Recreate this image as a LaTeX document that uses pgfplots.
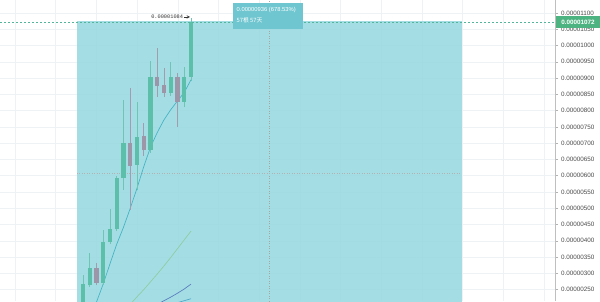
\documentclass[border=0pt]{standalone}
\usepackage{pgfplots}
\usepackage{pgfplotstable}
\pgfplotsset{compat=1.18}
\usepackage{fontspec}
\setmainfont{Liberation Sans}
\newfontfamily\cjk{Noto Sans CJK SC}
\newfontfamily\monof{Liberation Mono}
\definecolor{up}{HTML}{5BBFA9}
\definecolor{upw}{HTML}{6FC5B3}
\definecolor{dn}{HTML}{9D95A8}
\definecolor{dnw}{HTML}{A39CAE}
\definecolor{rectc}{RGB}{152,216,225}
\definecolor{gridc}{HTML}{EEF2F5}
\definecolor{labc}{HTML}{4A4A4A}
\definecolor{pricec}{HTML}{4DB380}
\definecolor{pline}{HTML}{52B69A}
\definecolor{boxc}{HTML}{6FC6D0}
\definecolor{maone}{HTML}{45B5C2}
\definecolor{matwo}{HTML}{8ECDA2}
\definecolor{mathree}{HTML}{5A7FBF}
\definecolor{mafour}{HTML}{4FA8C8}

\pgfplotstableread{
i O H L C
1 190 295 180 267
2 264 363 258 317
4 270 433 265 396
5 396 498 390 436
6 436 600 430 593
7 593 833 556 701
9 633 827 556 719
11 679 953 670 903
14 854 949 845 903
16 827 934 811 903
17 903 1084 890 1072
}\greentab

\pgfplotstableread{
i O H L C
3 317 332 265 270
8 701 870 495 630
10 722 762 660 679
12 903 992 842 876
13 879 931 842 854
15 903 916 750 827
}\graytab

\pgfplotstableread{
i v
3 212
4 268
5 330
6 390
7 442
8 500
9 562
10 628
11 688
12 733
13 772
14 803
15 830
16 856
17 895
}\maA

\pgfplotstableread{
i v
8 205
9 228
10 250
11 274
12 298
13 323
14 349
15 376
16 403
17 430
}\maB

\pgfplotstableread{
i v
12 205
13 216
14 227
15 239
16 252
17 267
}\maC

\pgfplotstableread{
i v
15 210
16 216
17 222
}\maD

\begin{document}
\begin{tikzpicture}
\begin{axis}[
  at={(0pt,0pt)}, anchor=south west,
  scale only axis, width=555pt, height=301pt,
  xmin=-11.3, xmax=70.92, ymin=215, ymax=1140,
  clip mode=individual,
  axis line style={draw=none},
  xtick={-9.08,-3.05,...,70}, xticklabels={},
  major x tick style={draw=none},
  ytick={250,300,...,1100},
  yticklabels={0.00000250,0.00000300,0.00000350,0.00000400,0.00000450,0.00000500,0.00000550,0.00000600,0.00000650,0.00000700,0.00000750,0.00000800,0.00000850,0.00000900,0.00000950,0.00001000,0.00001050,0.00001100},
  ytick pos=right, yticklabel pos=right,
  tick align=outside, major tick length=3pt,
  major y tick style={draw=black!30, line width=0.5pt},
  yticklabel style={font=\fontsize{6.3}{7}\selectfont, text=labc, xshift=-0.5pt},
  grid=major, major grid style={draw=gridc, line width=0.6pt},
  /pgf/number format/assume math mode=true,
]
% measurement rectangle
\addplot[fill=rectc, fill opacity=0.87, draw=none, forget plot] coordinates {(0.1,150) (0.1,1075) (57.1,1075) (57.1,150)} -- cycle;
% crosshair
\draw[black!35, dotted, line width=0.5pt] (axis cs:28.55,215) -- (axis cs:28.55,1140);
\draw[black!30, dotted, line width=0.5pt] (axis cs:0.1,608) -- (axis cs:57.1,608);
% moving averages
\addplot[maone, line width=0.7pt, forget plot] table[x=i, y=v] {\maA};
\addplot[matwo, line width=0.7pt, forget plot] table[x=i, y=v] {\maB};
\addplot[mathree, line width=0.7pt, forget plot] table[x=i, y=v] {\maC};
\addplot[mafour, line width=0.7pt, forget plot] table[x=i, y=v] {\maD};
% wicks
\addplot[draw=none, mark=none, forget plot, error bars/.cd, y dir=plus, y explicit, error mark=none, error bar style={draw=upw, line width=0.9pt}]
  table[x=i, y=L, y error plus expr=\thisrow{H}-\thisrow{L}] {\greentab};
\addplot[draw=none, mark=none, forget plot, error bars/.cd, y dir=plus, y explicit, error mark=none, error bar style={draw=dnw, line width=0.9pt}]
  table[x=i, y=L, y error plus expr=\thisrow{H}-\thisrow{L}] {\graytab};
% bodies
\addplot[draw=none, mark=none, forget plot, error bars/.cd, y dir=plus, y explicit, error mark=none, error bar style={draw=up, line width=4.3pt}]
  table[x=i, y=O, y error plus expr=\thisrow{C}-\thisrow{O}] {\greentab};
\addplot[draw=none, mark=none, forget plot, error bars/.cd, y dir=plus, y explicit, error mark=none, error bar style={draw=dn, line width=4.3pt}]
  table[x=i, y=C, y error plus expr=\thisrow{O}-\thisrow{C}] {\graytab};
% last price line
\addplot[pline, dash pattern=on 2pt off 2pt, line width=0.6pt, forget plot] coordinates {(-11.3,1072) (70.92,1072)};
% right spine
\draw[black!25, line width=0.5pt] (rel axis cs:1,0) -- (rel axis cs:1,1);
% high label
\node[anchor=east, inner sep=0pt, font=\monof\fontsize{5.3}{6}\selectfont, text=black!80] at (axis cs:15.85,1088) {0.00001084};
\draw[-stealth, black!80, line width=0.5pt] (axis cs:15.95,1088) -- (axis cs:16.85,1088);
\end{axis}
% price tag on the scale
\fill[pricec] (556pt,273pt) rectangle (600pt,285pt);
\node[text=white, font=\bfseries\fontsize{6.3}{7}\selectfont, inner sep=0pt] at (578pt,279pt) {0.00001072};
% measurement info box
\fill[boxc] (233pt,272pt) rectangle (303pt,298pt);
\node[anchor=west, text=white, font=\fontsize{5.8}{6}\selectfont, inner sep=0pt] at (236.5pt,291pt) {0.00000936 (678.53\%)};
\node[anchor=west, text=white, font=\cjk\fontsize{5.8}{6}\selectfont, inner sep=0pt] at (236.5pt,280.5pt) {57根 57天};
\pgfresetboundingbox
\path[use as bounding box] (0pt,0pt) rectangle (600pt,301pt);
\end{tikzpicture}
\end{document}
